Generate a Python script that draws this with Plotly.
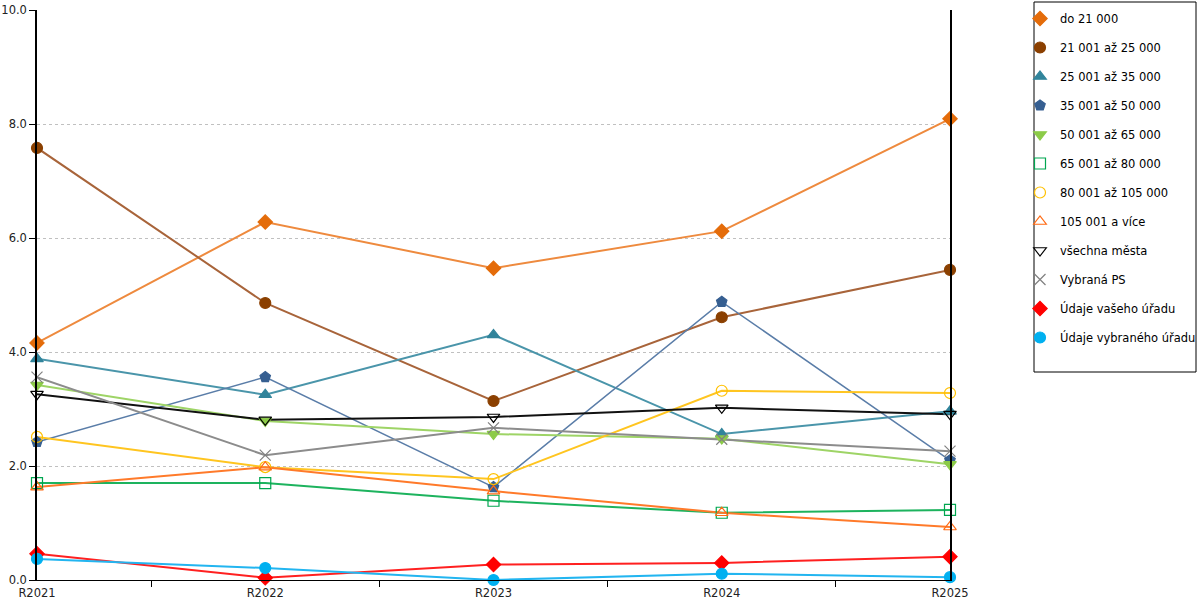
import plotly.graph_objects as go

# ---------------------------------------------------------------------------
# data
# ---------------------------------------------------------------------------
years = ["R2021", "R2022", "R2023", "R2024", "R2025"]

do_21000 = [4.16, 6.28, 5.47, 6.12, 8.09]
od_21001 = [7.58, 4.86, 3.14, 4.61, 5.44]
od_25001 = [3.88, 3.25, 4.30, 2.56, 2.96]
od_35001 = [2.42, 3.56, 1.63, 4.88, 2.10]
od_50001 = [3.42, 2.79, 2.56, 2.48, 2.03]
od_65001 = [1.70, 1.70, 1.39, 1.18, 1.23]
od_80001 = [2.51, 1.98, 1.77, 3.32, 3.28]
od_105001 = [1.63, 1.98, 1.56, 1.18, 0.93]
vsechna_mesta = [3.26, 2.81, 2.86, 3.02, 2.91]
vybrana_ps = [3.56, 2.19, 2.67, 2.47, 2.26]
vas_urad = [0.46, 0.04, 0.27, 0.30, 0.41]
vybrany_urad = [0.37, 0.21, 0.00, 0.11, 0.05]

# name, values, line colour, marker colour, symbol, line width
series = [
    ("do 21 000", do_21000, "#EE8A3E", "#E46C0A", "diamond", 2),
    ("21 001 až 25 000", od_21001, "#A8643A", "#8B4000", "circle", 2),
    ("25 001 až 35 000", od_25001, "#4A95AA", "#31849B", "triangle-up", 2),
    ("35 001 až 50 000", od_35001, "#5A7DA8", "#365F91", "pentagon", 1.5),
    ("50 001 až 65 000", od_50001, "#9ED466", "#8CCB48", "triangle-down", 2),
    ("65 001 až 80 000", od_65001, "#1DB35E", "#00A650", "square-open", 2),
    ("80 001 až 105 000", od_80001, "#FFC520", "#FFC000", "circle-open", 2),
    ("105 001 a více", od_105001, "#FF7A2A", "#FF6A13", "triangle-up-open", 2),
    ("všechna města", vsechna_mesta, "#111111", "#000000", "triangle-down-open", 2),
    ("Vybraná PS", vybrana_ps, "#8C8C8C", "#808080", "x-thin-open", 2),
    ("Údaje vašeho úřadu", vas_urad, "#FF2020", "#FF0000", "diamond", 2),
    ("Údaje vybraného úřadu", vybrany_urad, "#22B5F0", "#00B0F0", "circle", 2),
]

fig = go.Figure()

# lines first (no legend), so the legend shows markers only
for i, (name, vals, lcol, mcol, sym, lw) in enumerate(series):
    fig.add_trace(go.Scatter(
        x=years, y=vals, mode="lines",
        line=dict(color=lcol, width=lw),
        legendgroup=f"g{i}", showlegend=False,
        hoverinfo="skip", cliponaxis=False,
    ))

for i, (name, vals, lcol, mcol, sym, lw) in enumerate(series):
    fig.add_trace(go.Scatter(
        x=years, y=vals, mode="markers", name=name,
        marker=dict(symbol=sym, size=11,
                    color=mcol, line=dict(color=mcol, width=1.2)),
        legendgroup=f"g{i}", cliponaxis=False,
    ))

# legend frame drawn as a shape so the entries can sit closer to its left edge
fig.add_shape(
    type="rect", xref="paper", yref="paper",
    x0=(1034 - 37) / 913, x1=(1196 - 37) / 913,
    y0=(580 - 372) / 570, y1=(580 - 2) / 570,
    line=dict(color="#000000", width=1), fillcolor="rgba(0,0,0,0)",
    layer="above",
)

fig.update_layout(
    width=1200, height=600,
    paper_bgcolor="white", plot_bgcolor="white",
    margin=dict(l=37, r=250, t=10, b=20, autoexpand=False),
    font=dict(family="DejaVu Sans", size=11, color="#222222"),
    legend=dict(
        x=(1020 - 37) / 913, xanchor="left",
        y=(580 - 4) / 570, yanchor="top",
        borderwidth=0, bgcolor="rgba(0,0,0,0)",
        font=dict(family="DejaVu Sans", size=11.5, color="#000000"),
        tracegroupgap=10, itemwidth=30, maxheight=600,
    ),
    xaxis=dict(
        type="category", range=[0, 4],
        showline=True, linecolor="#000000", linewidth=1,
        ticks="outside", ticklen=6, tickcolor="#000000",
        tickson="boundaries", showgrid=False, zeroline=False,
        ticklabelstandoff=2,
        tickfont=dict(size=11.5, color="#222222"),
    ),
    yaxis=dict(
        range=[0, 10], dtick=2, tickformat=".1f",
        showline=True, linecolor="#000000", linewidth=1.5, mirror=True,
        ticks="outside", ticklen=6, tickcolor="#000000",
        showgrid=True, gridcolor="#C0C0C0", griddash="3px,3px", gridwidth=1,
        zeroline=False,
        tickfont=dict(size=11.5, color="#222222"),
    ),
    showlegend=True,
)

# page body has a default 8px margin; drop it so the figure fills the window
fig.write_html(
    "out.html",
    config={"displayModeBar": False},
    post_script="document.body.style.margin = '0px';",
)
